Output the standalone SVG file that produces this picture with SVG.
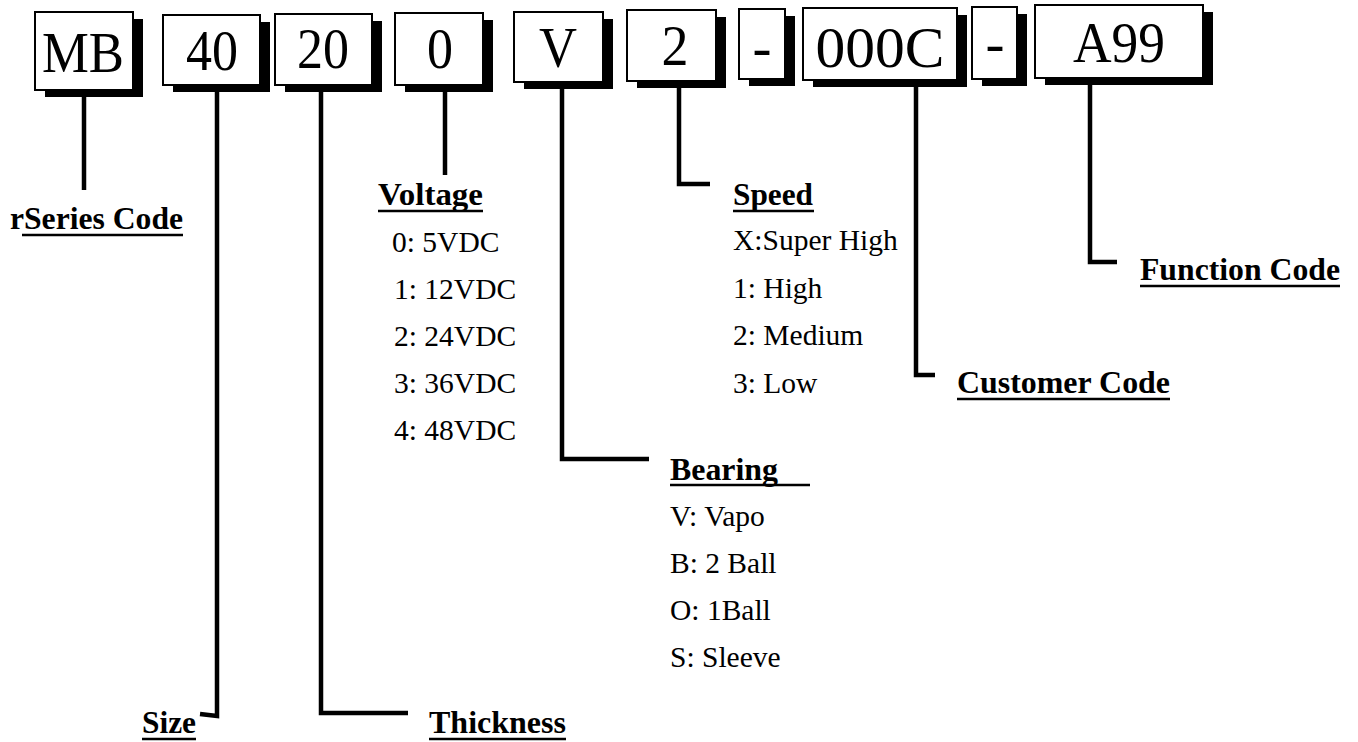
<svg xmlns="http://www.w3.org/2000/svg" width="1358" height="742" viewBox="0 0 1358 742">
<style>
.bx{fill:#fff;stroke:#000;stroke-width:2}
.sh{fill:#000}
.bt{font-family:"Liberation Serif","Times New Roman",serif;font-size:57px;fill:#000;text-anchor:middle}
.hd{font-family:"Liberation Serif","Times New Roman",serif;font-size:31px;font-weight:bold;fill:#000}
.it{font-family:"Liberation Serif","Times New Roman",serif;font-size:29.5px;fill:#000}
.ul{stroke:#000;stroke-width:2.5}
.cn{fill:none;stroke:#000;stroke-width:4.5;stroke-linejoin:miter;stroke-linecap:butt}
</style>
<rect width="1358" height="742" fill="#fff"/>
<g id="connectors">
<polyline class="cn" points="84,97 84,190"/>
<polyline class="cn" points="217,92 217,716 200,714"/>
<polyline class="cn" points="321,92 321,713 408,713"/>
<polyline class="cn" points="445,92 445,175"/>
<polyline class="cn" points="562,89 562,459 649,459"/>
<polyline class="cn" points="679,88 679,184 710,184"/>
<polyline class="cn" points="916,87 916,375 935,375"/>
<polyline class="cn" points="1090,84 1090,262 1117,262"/>
</g>
<g id="box-MB"><rect class="sh" x="45" y="19" width="98" height="78"/><rect class="bx" x="35" y="12" width="98" height="78"/><text class="bt" x="83" y="72" textLength="82" lengthAdjust="spacingAndGlyphs">MB</text></g>
<g id="box-40"><rect class="sh" x="173" y="22" width="97" height="70"/><rect class="bx" x="163" y="15" width="97" height="70"/><text class="bt" x="212" y="70" textLength="52" lengthAdjust="spacingAndGlyphs">40</text></g>
<g id="box-20"><rect class="sh" x="285" y="21" width="97" height="71"/><rect class="bx" x="275" y="14" width="97" height="71"/><text class="bt" x="323" y="68" textLength="52" lengthAdjust="spacingAndGlyphs">20</text></g>
<g id="box-0"><rect class="sh" x="405" y="20" width="88" height="72"/><rect class="bx" x="395" y="13" width="88" height="72"/><text class="bt" x="440" y="68" textLength="26" lengthAdjust="spacingAndGlyphs">0</text></g>
<g id="box-V"><rect class="sh" x="524" y="19" width="89" height="70"/><rect class="bx" x="514" y="12" width="89" height="70"/><text class="bt" x="558" y="67" textLength="38" lengthAdjust="spacingAndGlyphs">V</text></g>
<g id="box-2"><rect class="sh" x="637" y="17" width="89" height="71"/><rect class="bx" x="627" y="10" width="89" height="71"/><text class="bt" x="675" y="65" textLength="27" lengthAdjust="spacingAndGlyphs">2</text></g>
<g id="box-dash1"><rect class="sh" x="749" y="16" width="46" height="70"/><rect class="bx" x="739" y="9" width="46" height="70"/><text class="bt" x="762" y="66">-</text></g>
<g id="box-000C"><rect class="sh" x="813" y="15" width="154" height="72"/><rect class="bx" x="803" y="8" width="154" height="72"/><text class="bt" x="880" y="67" textLength="129" lengthAdjust="spacingAndGlyphs">000C</text></g>
<g id="box-dash2"><rect class="sh" x="982" y="14" width="45" height="72"/><rect class="bx" x="972" y="7" width="45" height="72"/><text class="bt" x="995" y="62">-</text></g>
<g id="box-A99"><rect class="sh" x="1045" y="12" width="168" height="73"/><rect class="bx" x="1035" y="5" width="168" height="73"/><text class="bt" x="1119" y="62" textLength="92" lengthAdjust="spacingAndGlyphs">A99</text></g>
<g id="label-series"><text class="hd" x="10" y="229" textLength="173" lengthAdjust="spacingAndGlyphs">rSeries Code</text><line class="ul" x1="22" y1="235" x2="183" y2="235"/></g>
<g id="label-size"><text class="hd" x="142" y="733" textLength="54" lengthAdjust="spacingAndGlyphs">Size</text><line class="ul" x1="142" y1="739" x2="196" y2="739"/></g>
<g id="label-thickness"><text class="hd" x="429" y="733" textLength="137" lengthAdjust="spacingAndGlyphs">Thickness</text><line class="ul" x1="429" y1="739" x2="566" y2="739"/></g>
<g id="label-voltage"><text class="hd" x="378" y="205" textLength="105" lengthAdjust="spacingAndGlyphs">Voltage</text><line class="ul" x1="378" y1="211" x2="483" y2="211"/>
<text class="it" x="392" y="252">0: 5VDC</text>
<text class="it" x="394" y="299">1: 12VDC</text>
<text class="it" x="394" y="346">2: 24VDC</text>
<text class="it" x="394" y="393">3: 36VDC</text>
<text class="it" x="394" y="440">4: 48VDC</text></g>
<g id="label-speed"><text class="hd" x="733" y="205" textLength="80" lengthAdjust="spacingAndGlyphs">Speed</text><line class="ul" x1="733" y1="211" x2="814" y2="211"/>
<text class="it" x="733" y="250">X:Super High</text>
<text class="it" x="733" y="298">1: High</text>
<text class="it" x="733" y="345">2: Medium</text>
<text class="it" x="733" y="393">3: Low</text></g>
<g id="label-bearing"><text class="hd" x="670" y="480" textLength="108" lengthAdjust="spacingAndGlyphs">Bearing</text><line class="ul" x1="670" y1="485" x2="810" y2="485"/>
<text class="it" x="670" y="526">V: Vapo</text>
<text class="it" x="670" y="573">B: 2 Ball</text>
<text class="it" x="670" y="620">O: 1Ball</text>
<text class="it" x="670" y="667">S: Sleeve</text></g>
<g id="label-customer"><text class="hd" x="957" y="393" textLength="213" lengthAdjust="spacingAndGlyphs">Customer Code</text><line class="ul" x1="957" y1="399" x2="1170" y2="399"/></g>
<g id="label-function"><text class="hd" x="1140" y="280" textLength="200" lengthAdjust="spacingAndGlyphs">Function Code</text><line class="ul" x1="1140" y1="286" x2="1340" y2="286"/></g>
</svg>
